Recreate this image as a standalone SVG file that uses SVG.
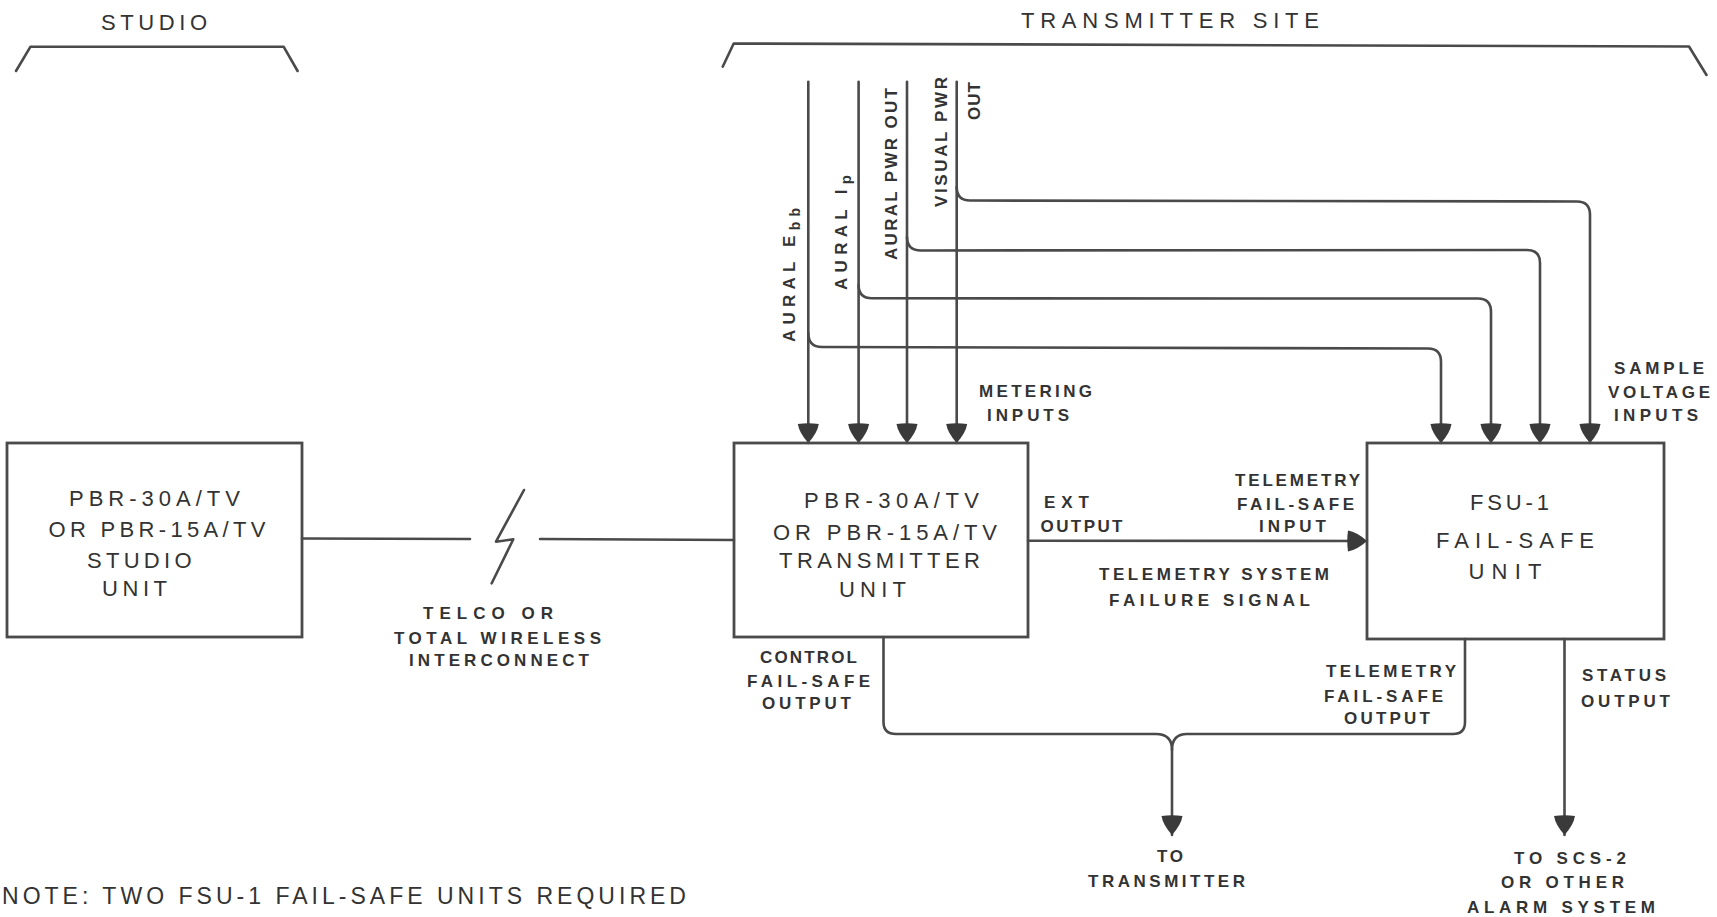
<svg xmlns="http://www.w3.org/2000/svg" width="1717" height="917" viewBox="0 0 1717 917">
<style>
  .ln { fill: none; stroke: #4a4a4a; stroke-width: 2.6; stroke-linejoin: round; stroke-linecap: round; }
  .box { fill: none; stroke: #4a4a4a; stroke-width: 2.8; }
  .arr { marker-end: url(#ah); }
  text { font-family: "Liberation Sans", Arial, sans-serif; fill: #333333; }
  .big { font-size: 22px; }
  .hdr { font-size: 22px; }
  .sm { font-size: 17px; font-weight: bold; }
  .rot { font-size: 17px; font-weight: bold; }
</style>
<defs>
  <marker id="ah" markerUnits="userSpaceOnUse" viewBox="0 0 20 22" markerWidth="20" markerHeight="22" refX="20" refY="11" orient="auto">
    <path d="M1,0.5 Q10,2 20,11 Q10,20 1,21.5 Q-0.5,11 1,0.5 Z" fill="#3a3a3a"/>
  </marker>
</defs>
<rect width="1717" height="917" fill="#ffffff"/>

<g id="headers">
  <text class="hdr" x="101" y="30" textLength="106" lengthAdjust="spacing">STUDIO</text>
  <path class="ln" d="M16,71 L30.5,46.7 L283.6,46.7 L297.6,71"/>
  <text class="hdr" x="1021" y="28" textLength="298" lengthAdjust="spacing">TRANSMITTER  SITE</text>
  <path class="ln" d="M722.7,66.7 L733.7,43.5 L1689,46.5 L1706.5,75"/>
</g>

<g id="connectors">
  <path class="ln" d="M302,538.5 L470,539"/>
  <path class="ln" d="M540,539 L734,540"/>
  <path class="ln" d="M524,490 L496,541.7 L513.3,539.3 L491.7,583.3"/>
  <path class="ln arr" d="M808.3,81.7 L808.3,443"/>
  <path class="ln arr" d="M858.6,81.7 L858.6,443"/>
  <path class="ln arr" d="M907,81.7 L907,443"/>
  <path class="ln arr" d="M956.7,81.7 L956.7,443"/>
  <path class="ln arr" d="M808.3,333 Q808.3,347 822,347 L1428,348.5 Q1441,348.5 1441,362 L1441,443"/>
  <path class="ln arr" d="M858.6,285 Q858.6,298.3 872,298.3 L1478,298.5 Q1491,298.5 1491,312 L1491,443"/>
  <path class="ln arr" d="M907,237 Q907,250.5 921,250.5 L1527,250 Q1540,250 1540,263 L1540,443"/>
  <path class="ln arr" d="M956.7,187 Q956.7,200.5 970,200.5 L1577,201.5 Q1590,201.5 1590,215 L1590,443"/>
  <path class="ln arr" d="M1028,540.7 L1367,541"/>
  <path class="ln" d="M883.5,637 L883.5,722 Q883.5,734 896,734 L1156,734 Q1172,734 1172,750"/>
  <path class="ln arr" d="M1465,639 L1465,722 Q1465,734 1453,734 L1187,734 Q1172,734 1172,750 L1172,835"/>
  <path class="ln arr" d="M1564.5,639 L1564.5,835"/>
</g>

<g id="studio-unit">
  <rect class="box" x="7" y="443" width="295" height="194"/>
  <text class="big" x="69" y="506" textLength="171" lengthAdjust="spacing">PBR-30A/TV</text>
  <text class="big" x="48.5" y="537" textLength="217" lengthAdjust="spacing">OR PBR-15A/TV</text>
  <text class="big" x="87" y="568" textLength="104.5" lengthAdjust="spacing">STUDIO</text>
  <text class="big" x="102" y="596" textLength="65" lengthAdjust="spacing">UNIT</text>
</g>

<g id="transmitter-unit">
  <rect class="box" x="734" y="443" width="294" height="194"/>
  <text class="big" x="804" y="508" textLength="175" lengthAdjust="spacing">PBR-30A/TV</text>
  <text class="big" x="773" y="540" textLength="224" lengthAdjust="spacing">OR PBR-15A/TV</text>
  <text class="big" x="779" y="568" textLength="201" lengthAdjust="spacing">TRANSMITTER</text>
  <text class="big" x="839" y="597" textLength="67" lengthAdjust="spacing">UNIT</text>
</g>

<g id="fsu-unit">
  <rect class="box" x="1367" y="443" width="297" height="196"/>
  <text class="big" x="1470" y="510" textLength="79" lengthAdjust="spacing">FSU-1</text>
  <text class="big" x="1436" y="548" textLength="158" lengthAdjust="spacing">FAIL-SAFE</text>
  <text class="big" x="1468.5" y="579" textLength="73" lengthAdjust="spacing">UNIT</text>
</g>

<g id="labels">
  <text class="sm" x="423" y="619" textLength="130" lengthAdjust="spacing">TELCO  OR</text>
  <text class="sm" x="394" y="644" textLength="207" lengthAdjust="spacing">TOTAL WIRELESS</text>
  <text class="sm" x="409" y="666" textLength="180" lengthAdjust="spacing">INTERCONNECT</text>

  <text class="sm" x="1044" y="508" textLength="45" lengthAdjust="spacing">EXT</text>
  <text class="sm" x="1040.5" y="532" textLength="82" lengthAdjust="spacing">OUTPUT</text>

  <text class="sm" x="1235" y="486" textLength="125" lengthAdjust="spacing">TELEMETRY</text>
  <text class="sm" x="1237" y="510" textLength="117" lengthAdjust="spacing">FAIL-SAFE</text>
  <text class="sm" x="1259" y="532" textLength="67" lengthAdjust="spacing">INPUT</text>

  <text class="sm" x="1099" y="580" textLength="230" lengthAdjust="spacing">TELEMETRY SYSTEM</text>
  <text class="sm" x="1109" y="606" textLength="201" lengthAdjust="spacing">FAILURE  SIGNAL</text>

  <text class="sm" x="760" y="663" textLength="97" lengthAdjust="spacing">CONTROL</text>
  <text class="sm" x="747" y="687" textLength="123" lengthAdjust="spacing">FAIL-SAFE</text>
  <text class="sm" x="762" y="709" textLength="89" lengthAdjust="spacing">OUTPUT</text>

  <text class="sm" x="1326" y="677" textLength="130" lengthAdjust="spacing">TELEMETRY</text>
  <text class="sm" x="1324" y="702" textLength="119" lengthAdjust="spacing">FAIL-SAFE</text>
  <text class="sm" x="1344" y="724" textLength="86" lengthAdjust="spacing">OUTPUT</text>

  <text class="sm" x="1582" y="681" textLength="84" lengthAdjust="spacing">STATUS</text>
  <text class="sm" x="1581" y="707" textLength="89" lengthAdjust="spacing">OUTPUT</text>

  <text class="sm" x="1157" y="862" textLength="26" lengthAdjust="spacing">TO</text>
  <text class="sm" x="1088" y="887" textLength="157" lengthAdjust="spacing">TRANSMITTER</text>

  <text class="sm" x="1514" y="864" textLength="112" lengthAdjust="spacing">TO SCS-2</text>
  <text class="sm" x="1501" y="888" textLength="123" lengthAdjust="spacing">OR OTHER</text>
  <text class="sm" x="1467" y="913" textLength="188" lengthAdjust="spacing">ALARM SYSTEM</text>

  <text class="sm" x="979" y="397" textLength="113" lengthAdjust="spacing">METERING</text>
  <text class="sm" x="987" y="421" textLength="82" lengthAdjust="spacing">INPUTS</text>

  <text class="sm" x="1614" y="374" textLength="90" lengthAdjust="spacing">SAMPLE</text>
  <text class="sm" x="1608" y="398" textLength="102" lengthAdjust="spacing">VOLTAGE</text>
  <text class="sm" x="1614" y="421" textLength="84" lengthAdjust="spacing">INPUTS</text>

  <text class="rot" transform="translate(795,342) rotate(-90)" textLength="134" lengthAdjust="spacing">AURAL E<tspan font-size="14" dy="5">bb</tspan></text>
  <text class="rot" transform="translate(846.5,290) rotate(-90)" textLength="115" lengthAdjust="spacing">AURAL I<tspan font-size="15" dy="4">p</tspan></text>
  <text class="rot" transform="translate(896.5,260) rotate(-90)" textLength="172" lengthAdjust="spacing">AURAL PWR OUT</text>
  <text class="rot" transform="translate(946.5,207) rotate(-90)" textLength="130" lengthAdjust="spacing">VISUAL PWR</text>
  <text class="rot" transform="translate(980,120) rotate(-90)" textLength="38" lengthAdjust="spacing">OUT</text>

  <text x="2" y="904" font-size="23" textLength="684" lengthAdjust="spacing">NOTE: TWO FSU-1 FAIL-SAFE UNITS REQUIRED</text>
</g>
</svg>
